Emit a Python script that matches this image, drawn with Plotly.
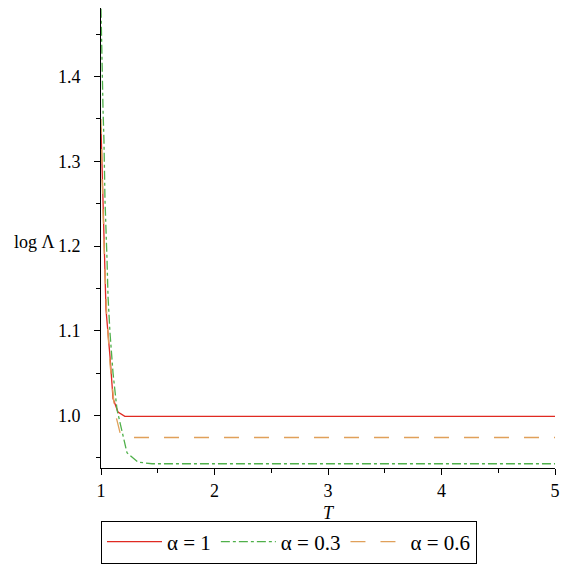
import plotly.graph_objects as go

# Data
T_red = [1.0, 1.009, 1.026, 1.044, 1.079, 1.106, 1.15, 1.21, 1.5, 2.0, 3.0, 4.0, 5.0]
L_red = [1.34, 1.29, 1.20, 1.125, 1.07, 1.02, 1.004, 0.999, 0.999, 0.999, 0.999, 0.999, 0.999]

T_green = [1.0, 1.009, 1.018, 1.026, 1.035, 1.053, 1.062, 1.079, 1.106, 1.141, 1.185, 1.229, 1.326, 1.45, 2.0, 3.0, 4.0, 5.0]
L_green = [1.48, 1.40, 1.36, 1.325, 1.255, 1.184, 1.14, 1.098, 1.05, 1.007, 0.98, 0.956, 0.945, 0.943, 0.943, 0.943, 0.943, 0.943]

T_orange = [1.0, 1.01, 1.03, 1.05, 1.08, 1.123, 1.167, 1.24, 1.5, 2.0, 3.0, 4.0, 5.0]
L_orange = [1.35, 1.28, 1.19, 1.12, 1.06, 1.004, 0.98, 0.974, 0.974, 0.974, 0.974, 0.974, 0.974]

series_names = ["α = 1", "α = 0.3", "α = 0.6"]
y_ticks = [1.0, 1.1, 1.2, 1.3, 1.4]
y_tick_labels = ["1.0", "1.1", "1.2", "1.3", "1.4"]
x_ticks = [1, 2, 3, 4, 5]

FONT = "Liberation Serif, Times New Roman, Times, serif"

fig = go.Figure()
fig.add_trace(go.Scatter(x=T_red, y=L_red, mode="lines", name=series_names[0],
                         line=dict(color="#e02a22", width=1.3, dash="solid")))
fig.add_trace(go.Scatter(x=T_green, y=L_green, mode="lines", name=series_names[1],
                         line=dict(color="#4fb04a", width=1.3, dash="dashdot")))
fig.add_trace(go.Scatter(x=T_orange, y=L_orange, mode="lines", name=series_names[2],
                         line=dict(color="#e0a05a", width=1.3, dash="longdash")))

fig.update_layout(
    width=565, height=565,
    margin=dict(l=101, r=10, t=8, b=97, autoexpand=False),
    paper_bgcolor="white", plot_bgcolor="white",
    font=dict(family=FONT, size=18, color="black"),
    showlegend=True,
    legend=dict(orientation="h", x=0, xanchor="left", y=(468 - 542) / 460, yanchor="middle",
                bordercolor="black", borderwidth=1, font=dict(size=21, family=FONT),
                itemwidth=55, tracegroupgap=0),
    xaxis=dict(range=[1, 5], tickvals=x_ticks, ticktext=[str(v) for v in x_ticks],
               automargin=False,
               showgrid=False, zeroline=False, showline=True, linecolor="black", linewidth=1,
               ticks="outside", ticklen=6, tickcolor="black",
               minor=dict(dtick=0.5, ticks="outside", ticklen=4, tickcolor="black", showgrid=False),
               title=dict(text="<i>T</i>", font=dict(size=18, family=FONT), standoff=6)),
    yaxis=dict(range=[0.938, 1.481], tickvals=y_ticks, ticktext=y_tick_labels,
               automargin=False, ticklabelstandoff=10,
               showgrid=False, zeroline=False, showline=True, linecolor="black", linewidth=1,
               ticks="outside", ticklen=6, tickcolor="black",
               minor=dict(tickvals=[0.95, 1.05, 1.15, 1.25, 1.35, 1.45], ticks="outside",
                          ticklen=4, tickcolor="black", showgrid=False)),
    annotations=[dict(text="log Λ", xref="paper", yref="paper", x=(57 - 101) / 454, y=(468 - 242) / 460,
                      xanchor="right", yanchor="middle", showarrow=False,
                      font=dict(size=18, family=FONT))],
)

fig.write_html("out.html", config={"displayModeBar": False},
               post_script="document.body.style.margin='0';document.body.style.overflow='hidden';")
